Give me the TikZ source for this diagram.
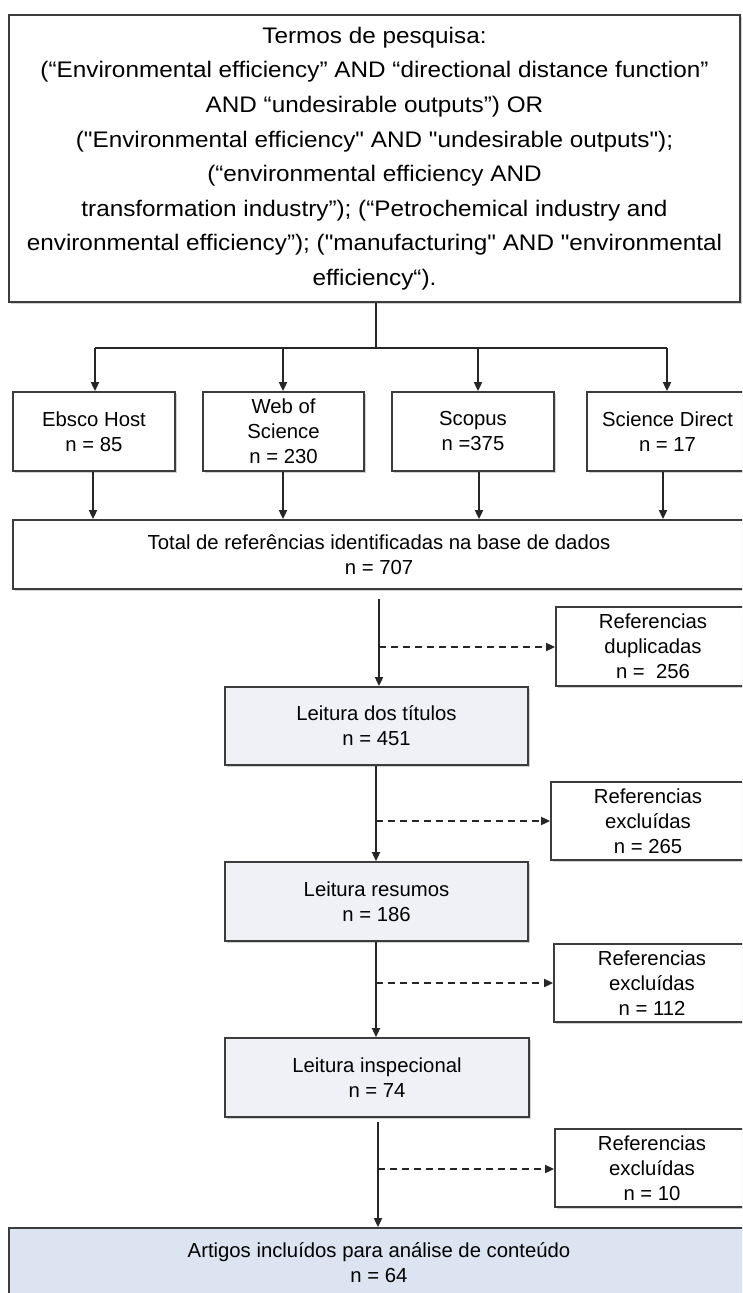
\documentclass[tikz,border=0pt]{standalone}
\usepackage{fontspec}
\setmainfont{Liberation Sans}[Ligatures=TeXOff]
\newfontfamily\topfont{Liberation Sans}[Ligatures=TeXOff,FakeStretch=1.08]
\usetikzlibrary{arrows.meta,shadows}
\definecolor{bordercol}{RGB}{60,60,60}
\definecolor{readfill}{RGB}{239,241,246}
\definecolor{finalfill}{RGB}{220,228,242}
\tikzset{
  box/.style={draw=bordercol, line width=1.8pt, fill=white, inner sep=0pt, align=center,
    font=\fontsize{20.3}{25}\selectfont,
    drop shadow={shadow xshift=2pt, shadow yshift=-2pt, fill=black, opacity=0.18}},
  readbox/.style={box, fill=readfill},
  finalbox/.style={box, fill=finalfill},
  conn/.style={draw=black!85, line width=1.8pt},
  arr/.style={conn, -{Triangle[length=9pt,width=8pt]}},
  darr/.style={arr, dash pattern=on 7pt off 5pt}
}
\begin{document}
\begin{tikzpicture}[x=1pt,y=-1pt]
\useasboundingbox (0,0) rectangle (742,1293);
\clip (0,0) rectangle (742,1293);

\node[box, minimum width=731pt, minimum height=287pt, font=\topfont\fontsize{22.5}{34.6}\selectfont] (top) at (374.5,158.5)
 {Termos de pesquisa:\\
 (“Environmental efficiency” AND “directional distance function”\\
 AND “undesirable outputs”) OR\\
 ("Environmental efficiency" AND "undesirable outputs");\\
 (“environmental efficiency AND\\
 transformation industry”); (“Petrochemical industry and\\
 environmental efficiency”); ("manufacturing" AND "environmental\\
 efficiency“).};

\node[box, minimum width=162pt, minimum height=79pt] (ebsco) at (94,431.5) {Ebsco Host\\n = 85};
\node[box, minimum width=161pt, minimum height=79pt] (wos) at (283.5,431.5) {Web of\\Science\\n = 230};
\node[box, minimum width=162pt, minimum height=79pt] (scopus) at (473,431.5) {Scopus\\n =375};
\node[box, minimum width=161pt, minimum height=79pt] (sd) at (667.5,431.5) {Science Direct\\n = 17};

\node[box, minimum width=732pt, minimum height=69pt] (total) at (379,554.5) {Total de referências identificadas na base de dados\\n = 707};

\node[box, minimum width=194pt, minimum height=79pt] (dup) at (653,646.5) {Referencias\\duplicadas\\n = \ 256};
\node[readbox, minimum width=303pt, minimum height=78pt] (tit) at (376.5,726) {Leitura dos títulos\\n = 451};
\node[box, minimum width=194pt, minimum height=78pt] (ex1) at (648,821) {Referencias\\excluídas\\n = 265};
\node[readbox, minimum width=303pt, minimum height=79pt] (res) at (376.5,901.5) {Leitura resumos\\n = 186};
\node[box, minimum width=196pt, minimum height=78pt] (ex2) at (652,983) {Referencias\\excluídas\\n = 112};
\node[readbox, minimum width=304pt, minimum height=79pt] (ins) at (377,1077.5) {Leitura inspecional\\n = 74};
\node[box, minimum width=194pt, minimum height=78pt] (ex3) at (652,1168) {Referencias\\excluídas\\n = 10};
\node[finalbox, minimum width=740pt, minimum height=70pt] (final) at (379,1263) {Artigos incluídos para análise de conteúdo\\n = 64};

% branching from the search terms
\coordinate (j) at (376,348);
\coordinate (c1) at (95,348);
\coordinate (c2) at (283,348);
\coordinate (c3) at (478,348);
\coordinate (c4) at (667,348);
\draw[conn] (top.south -| j) -- (j);
\draw[conn] (c1) -- (c4);
\draw[arr] (c1) -- (c1 |- ebsco.north);
\draw[arr] (c2) -- (c2 |- wos.north);
\draw[arr] (c3) -- (c3 |- scopus.north);
\draw[arr] (c4) -- (c4 |- sd.north);

% databases to total
\coordinate (b1) at (93,0);
\coordinate (b2) at (283,0);
\coordinate (b3) at (479,0);
\coordinate (b4) at (663,0);
\draw[arr] (b1 |- ebsco.south) -- (b1 |- total.north);
\draw[arr] (b2 |- wos.south) -- (b2 |- total.north);
\draw[arr] (b3 |- scopus.south) -- (b3 |- total.north);
\draw[arr] (b4 |- sd.south) -- (b4 |- total.north);

% main chain
\coordinate (m1) at (379,599);
\coordinate (d1) at (379,647);
\draw[arr] (m1) -- (m1 |- tit.north);
\draw[darr] (d1) -- (d1 -| dup.west);

\coordinate (m2) at (376,0);
\coordinate (d2) at (376,821);
\draw[arr] (m2 |- tit.south) -- (m2 |- res.north);
\draw[darr] (d2) -- (d2 -| ex1.west);

\coordinate (d3) at (376,983);
\draw[arr] (m2 |- res.south) -- (m2 |- ins.north);
\draw[darr] (d3) -- (d3 -| ex2.west);

\coordinate (m4) at (378,1122);
\coordinate (d4) at (378,1169);
\draw[arr] (m4) -- (m4 |- final.north);
\draw[darr] (d4) -- (d4 -| ex3.west);
\end{tikzpicture}
\end{document}
